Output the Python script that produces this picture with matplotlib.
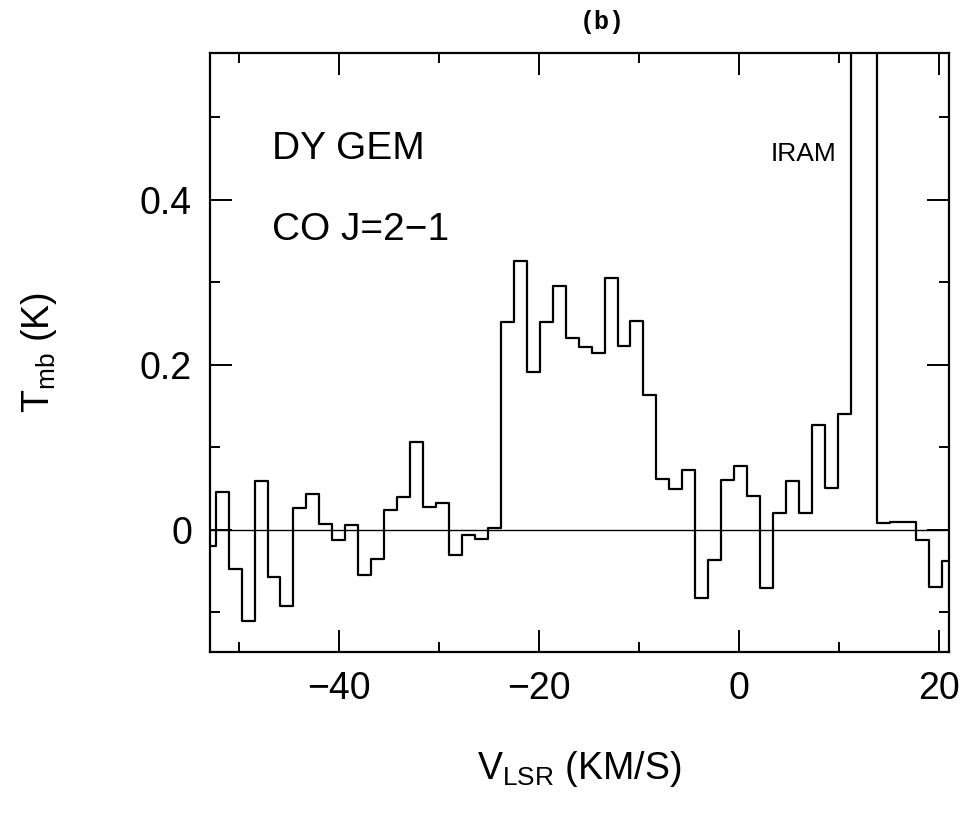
import numpy as np
import matplotlib
matplotlib.use("Agg")
import matplotlib.pyplot as plt
from matplotlib.ticker import MultipleLocator, FuncFormatter

# ---- data ----
channel_width = 1.297          # km/s
first_center = -53.02          # km/s (centre of the first, partly visible channel)
tmb = [
    -0.020, 0.046, -0.048, -0.111, 0.059, -0.057, -0.092, 0.026, 0.043, 0.007,
    -0.012, 0.006, -0.055, -0.035, 0.024, 0.040, 0.106, 0.028, 0.032, -0.030,
    -0.006, -0.011, 0.002, 0.252, 0.326, 0.191, 0.252, 0.296, 0.232, 0.222,
    0.214, 0.305, 0.223, 0.253, 0.163, 0.062, 0.049, 0.072, -0.083, -0.036,
    0.061, 0.077, 0.041, -0.070, 0.021, 0.059, 0.020, 0.127, 0.051, 0.141,
    0.900, 0.900, 0.008, 0.010, 0.009, -0.012, -0.069, -0.038,
]
velocity = first_center + channel_width * np.arange(len(tmb))

x_ticks_major = [-40, -20, 0, 20]
y_ticks_major = [0.0, 0.2, 0.4]

# ---- figure ----
plt.rcParams['font.family'] = ['Liberation Sans', 'DejaVu Sans']
plt.rcParams['mathtext.fontset'] = 'custom'
plt.rcParams['mathtext.rm'] = 'Liberation Sans'
plt.rcParams['mathtext.it'] = 'Liberation Sans'

fig = plt.figure(figsize=(9.64, 8.17), dpi=100)
ax = fig.add_axes([210/964, 1 - 652/817, 739/964, 599/817])

ax.step(velocity, tmb, where='mid', color='black', lw=1.6)
ax.axhline(0, color='black', lw=1.0)

ax.set_xlim(-52.94, 21.0)
ax.set_ylim(-0.148, 0.578)

ax.set_xticks(x_ticks_major)
ax.xaxis.set_minor_locator(MultipleLocator(10))
ax.set_yticks(y_ticks_major)
ax.yaxis.set_minor_locator(MultipleLocator(0.1))

def xfmt(v, pos):
    s = f"{abs(v):.0f}"
    return ("\u2212" + s) if v < 0 else s

def yfmt(v, pos):
    return "0" if abs(v) < 1e-9 else f"{v:.1f}"

ax.xaxis.set_major_formatter(FuncFormatter(xfmt))
ax.yaxis.set_major_formatter(FuncFormatter(yfmt))

ax.tick_params(which='both', direction='in', top=True, right=True, width=1.4, colors='black')
ax.tick_params(which='major', length=15.5, labelsize=27)
ax.tick_params(which='minor', length=7)
ax.tick_params(axis='x', which='major', pad=14)
ax.tick_params(axis='y', which='major', pad=13)
for sp in ax.spines.values():
    sp.set_linewidth(1.6)

ax.set_xlabel(r'V$_{\rm LSR}$ (KM/S)', fontsize=27, labelpad=30)
ax.set_ylabel(r'T$_{\rm mb}$ (K)', fontsize=27, labelpad=58)

ax.text(0.084, 0.840, 'DY GEM', transform=ax.transAxes, fontsize=28, va='center', ha='left')
ax.text(0.084, 0.7045, 'CO J=2\u22121', transform=ax.transAxes, fontsize=28, va='center', ha='left')
ax.text(0.758, 0.831, 'IRAM', transform=ax.transAxes, fontsize=19, va='center', ha='left')

fig.text(602/964, 1 - 22/817, '(b)', family=['Liberation Mono', 'DejaVu Sans Mono'],
         fontsize=18, fontweight='bold', ha='center', va='center')

fig.savefig('out.png', dpi=100, facecolor='white')
